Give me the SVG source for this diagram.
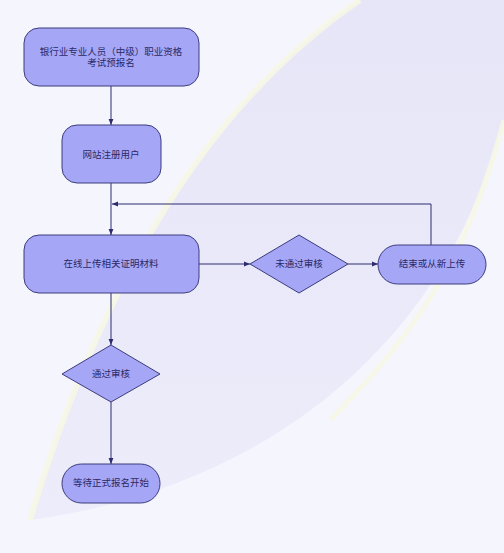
<svg xmlns="http://www.w3.org/2000/svg" width="504" height="553" viewBox="0 0 504 553">
<style>
.n{fill:#a6a6f6;stroke:#3c3c7c;stroke-width:1}
.t{font-family:"Liberation Serif","Noto Sans CJK SC",serif;font-size:9.5px;fill:#2a2a66;text-anchor:middle}
.c{fill:none;stroke:#2c2c70;stroke-width:1}
</style>
<defs>
<marker id="a" viewBox="0 0 10 10" refX="10" refY="5" markerWidth="6" markerHeight="6" orient="auto"><path d="M0,1 L10,5 L0,9 z" fill="#2c2c70"/></marker>
<linearGradient id="g" x1="0" y1="0" x2="0" y2="1"><stop offset="0" stop-color="#e6e6f8"/><stop offset="1" stop-color="#ececfa"/></linearGradient>
</defs>
<rect width="504" height="553" fill="#f5f5fd"/>
<path d="M360,0 Q140,150 30,520 C250,490 440,360 504,120 L504,0 Z" fill="url(#g)"/>
<path d="M360,0 Q140,150 30,520" fill="none" stroke="#f8f8e4" stroke-width="6" opacity="0.8"/>
<path d="M504,120 C470,250 420,330 330,420" fill="none" stroke="#f8f8e4" stroke-width="5" opacity="0.8"/>
<g id="connectors">
<line class="c" x1="111" y1="86" x2="111" y2="125" marker-end="url(#a)"/>
<line class="c" x1="111" y1="183" x2="111" y2="235" marker-end="url(#a)"/>
<polyline class="c" points="431,245 431,204 112,204" marker-end="url(#a)"/>
<line class="c" x1="199" y1="264" x2="250" y2="264" marker-end="url(#a)"/>
<line class="c" x1="348" y1="264" x2="378" y2="264" marker-end="url(#a)"/>
<line class="c" x1="111" y1="293" x2="111" y2="345" marker-end="url(#a)"/>
<line class="c" x1="111" y1="402" x2="111" y2="464" marker-end="url(#a)"/>
</g>
<g id="n1"><rect class="n" x="24" y="28" width="175" height="58" rx="15"/><text class="t" x="111" y="55">银行业专业人员（中级）职业资格</text><text class="t" x="111" y="66">考试预报名</text></g>
<g id="n2"><rect class="n" x="62" y="125" width="99" height="58" rx="15"/><text class="t" x="111" y="158">网站注册用户</text></g>
<g id="n3"><rect class="n" x="24" y="235" width="175" height="58" rx="15"/><text class="t" x="111" y="267">在线上传相关证明材料</text></g>
<g id="n4"><polygon class="n" points="299,235 348,264 299,293 250,264"/><text class="t" x="299" y="267">未通过审核</text></g>
<g id="n5"><rect class="n" x="378" y="245" width="108" height="39" rx="19.5"/><text class="t" x="432" y="267">结束或从新上传</text></g>
<g id="n6"><polygon class="n" points="111,345 160,374 111,402 62,374"/><text class="t" x="111" y="377">通过审核</text></g>
<g id="n7"><rect class="n" x="62" y="464" width="98" height="39" rx="19.5"/><text class="t" x="111" y="486">等待正式报名开始</text></g>
</svg>
